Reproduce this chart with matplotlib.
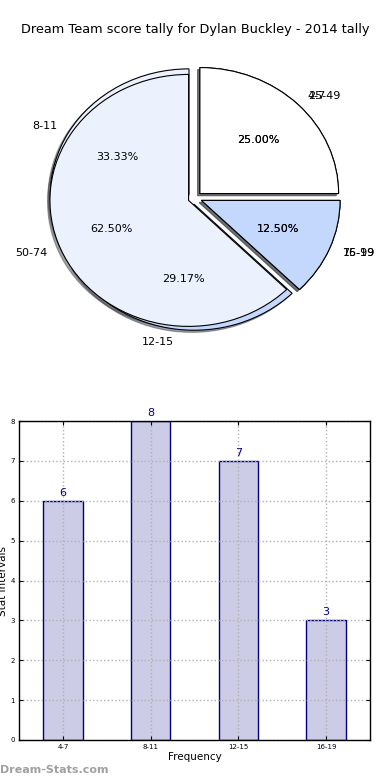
import matplotlib
matplotlib.use("Agg")
import matplotlib.pyplot as plt
import numpy as np

# score bands and counts
bands = ["4-7", "8-11", "12-15", "16-19"]
counts = [6, 8, 7, 3]

# second tally drawn over the first one
ranges = ["25-49", "50-74", "75-99"]
range_counts = [2, 5, 1]

title = "Dream Team score tally for Dylan Buckley - 2014 tally"
pie_colors = ["#ffffff", "#ecf1fe", "#c4d8fe"]

fig = plt.figure(figsize=(3.9, 7.8), dpi=100)
fig.patch.set_facecolor("white")

fig.text(0.5, 1 - 30 / 780, title, ha="center", va="center", fontsize=9.3)

# pie axes (not equal aspect, like the old default)
ax1 = fig.add_axes([17.5 / 390, (780 - 358) / 780, 355 / 390, 320 / 780])
wedge_style = dict(edgecolor="black", linewidth=0.8)
for labels, values in ((bands, counts), (ranges, range_counts)):
    cols = [pie_colors[i % 3] for i in range(len(values))]
    ax1.pie(values, labels=labels, colors=cols, explode=[0.05] * len(values),
            autopct="%1.2f%%", shadow=dict(ox=-0.012, oy=-0.012, shade=0.7),
            startangle=0, wedgeprops=wedge_style, textprops=dict(fontsize=8))
ax1.set_aspect("auto")
ax1.set_xlim(-1.28, 1.28)
ax1.set_ylim(-1.27, 1.27)
ax1.set_axis_off()

# bar chart
ax2 = fig.add_axes([19 / 390, 40 / 780, 351 / 390, 319 / 780])
x = np.arange(len(bands))
ax2.bar(x, counts, width=0.45, color="#ccccE6", edgecolor="#000080", linewidth=1, zorder=1)
for xi, c in zip(x, counts):
    ax2.text(xi, c + 0.08, str(c), ha="center", va="bottom", fontsize=8, color="#000080")
ax2.set_xlim(-0.5, len(bands) - 0.5)
ax2.set_ylim(0, 8)
ax2.set_xticks(x)
ax2.set_xticklabels(bands)
ax2.set_yticks(range(0, 9))
ax2.tick_params(direction="in", labelsize=5, length=3, top=True, right=True, pad=3)
ax2.grid(True, linestyle=":", color="#b0b0b0", linewidth=1, zorder=2)
ax2.set_axisbelow(False)
for s in ax2.spines.values():
    s.set_linewidth(1)
    s.set_zorder(5)
ax2.set_xlabel("Frequency", fontsize=7.5, labelpad=1)
ax2.set_ylabel("Stat Intervals", fontsize=7.5, labelpad=2)

fig.text(0.0, 1 - 770 / 780, "Dream-Stats.com", ha="left", va="center",
         fontsize=8, color="#a0a0a0", fontweight="bold")

fig.savefig("out.png", dpi=100, facecolor="white")
